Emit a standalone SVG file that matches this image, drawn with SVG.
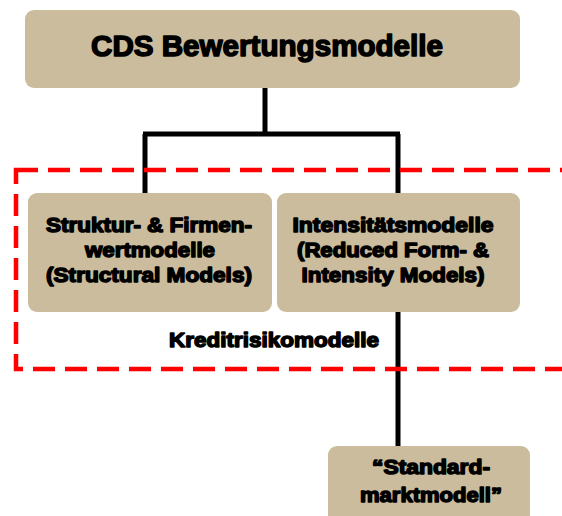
<svg xmlns="http://www.w3.org/2000/svg" width="562" height="516" viewBox="0 0 562 516">
<style>
.box{fill:#CBBC9D;}
.t{font-family:"Liberation Sans",Arial,sans-serif;font-weight:bold;fill:#000;stroke:#000;stroke-width:1.5;stroke-linejoin:round;text-anchor:middle;}
.c{stroke:#000;stroke-width:5;fill:none;}
</style>
<rect width="562" height="516" fill="#fff"/>
<g id="connectors">
<path class="c" d="M265,88 V134 M143,134 H400 M145,134 V194 M398,134 V194 M398,311 V447"/>
</g>
<rect id="kreditrisiko-frame" x="16" y="170" width="560" height="199" fill="none" stroke="#F00" stroke-width="4.5" stroke-dasharray="22,10"/>
<g id="root">
<rect class="box" x="25" y="10" width="495" height="78" rx="9"/>
<text class="t" x="267" y="56" font-size="29.5" textLength="352" lengthAdjust="spacingAndGlyphs">CDS Bewertungsmodelle</text>
</g>
<g id="structural">
<rect class="box" x="28" y="193" width="244" height="119" rx="9"/>
<text class="t" font-size="21"><tspan x="149" y="232" textLength="206" lengthAdjust="spacingAndGlyphs">Struktur- &amp; Firmen-</tspan><tspan x="150" y="257" textLength="130" lengthAdjust="spacingAndGlyphs">wertmodelle</tspan><tspan x="149" y="282" textLength="206" lengthAdjust="spacingAndGlyphs">(Structural Models)</tspan></text>
</g>
<g id="intensity">
<rect class="box" x="277" y="193" width="243" height="119" rx="9"/>
<text class="t" font-size="21"><tspan x="393" y="232" textLength="201" lengthAdjust="spacingAndGlyphs">Intensitätsmodelle</tspan><tspan x="393" y="257" textLength="192" lengthAdjust="spacingAndGlyphs">(Reduced Form- &amp;</tspan><tspan x="393" y="282" textLength="183" lengthAdjust="spacingAndGlyphs">Intensity Models)</tspan></text>
</g>
<text id="frame-label" class="t" x="274" y="347" font-size="21" textLength="210" lengthAdjust="spacingAndGlyphs">Kreditrisikomodelle</text>
<g id="standard">
<rect class="box" x="328" y="446" width="202" height="80" rx="9"/>
<text class="t" font-size="21"><tspan x="431" y="474" textLength="118" lengthAdjust="spacingAndGlyphs">“Standard-</tspan><tspan x="431" y="502" textLength="142" lengthAdjust="spacingAndGlyphs">marktmodell”</tspan></text>
</g>
</svg>
